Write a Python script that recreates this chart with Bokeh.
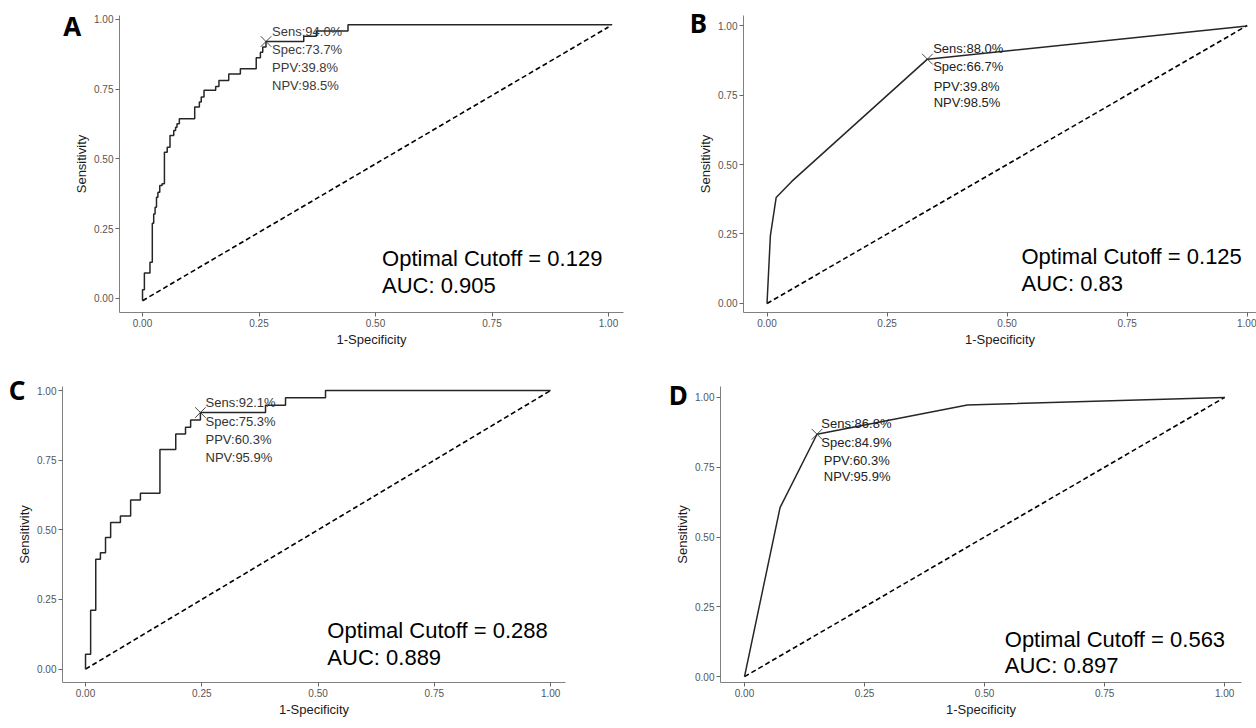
from bokeh.plotting import figure
from bokeh.layouts import column, row
from bokeh.models import Title, FixedTicker, Range1d
from bokeh.core.properties import value
from bokeh.embed import file_html
from bokeh.resources import INLINE

# ---------------- data ----------------
tick_values = [0.0, 0.25, 0.5, 0.75, 1.0]
tick_labels = ["0.00", "0.25", "0.50", "0.75", "1.00"]
panel_letters = ["A", "B", "C", "D"]

# Panel A: ROC points (1-specificity, sensitivity)
fpr_a = [0.000, 0.000, 0.004, 0.004, 0.016, 0.016, 0.021, 0.021, 0.024, 0.024,
         0.027, 0.027, 0.030, 0.030, 0.033, 0.033, 0.037, 0.037, 0.042, 0.042,
         0.047, 0.047, 0.053, 0.053, 0.059, 0.059, 0.067, 0.067, 0.071, 0.071,
         0.074, 0.074, 0.079, 0.079, 0.112, 0.112, 0.122, 0.122, 0.126, 0.126,
         0.132, 0.132, 0.157, 0.157, 0.164, 0.164, 0.185, 0.185, 0.210, 0.210,
         0.244, 0.244, 0.253, 0.253, 0.258, 0.258, 0.265, 0.265, 0.346, 0.346,
         0.373, 0.373, 0.441, 0.441, 1.008]
tpr_a = [-0.007, 0.031, 0.031, 0.091, 0.091, 0.130, 0.130, 0.270, 0.270, 0.303,
         0.303, 0.327, 0.327, 0.363, 0.363, 0.381, 0.381, 0.405, 0.405, 0.411,
         0.411, 0.524, 0.524, 0.542, 0.542, 0.584, 0.584, 0.602, 0.602, 0.614,
         0.614, 0.626, 0.626, 0.644, 0.644, 0.686, 0.686, 0.704, 0.704, 0.722,
         0.722, 0.746, 0.746, 0.760, 0.760, 0.781, 0.781, 0.805, 0.805, 0.823,
         0.823, 0.863, 0.863, 0.883, 0.883, 0.901, 0.901, 0.921, 0.921, 0.940,
         0.940, 0.959, 0.959, 0.981, 0.981]
diag_a_x = [0.0, 1.0]
diag_a_y = [-0.008, 0.973]
cut_a = (0.265, 0.921)

# Panel B
fpr_b = [0.000, 0.007, 0.019, 0.052, 0.334, 1.000]
tpr_b = [0.000, 0.244, 0.381, 0.440, 0.879, 0.998]
diag_b_x = [0.0, 1.0]
diag_b_y = [0.0, 1.0]
cut_b = (0.334, 0.879)

# Panel C
fpr_c = [0.000, 0.000, 0.011, 0.011, 0.022, 0.022, 0.032, 0.032, 0.043, 0.043,
         0.054, 0.054, 0.075, 0.075, 0.097, 0.097, 0.118, 0.118, 0.160, 0.160,
         0.194, 0.194, 0.215, 0.215, 0.226, 0.226, 0.247, 0.247, 0.387, 0.387,
         0.430, 0.430, 0.516, 0.516, 1.000]
tpr_c = [0.000, 0.053, 0.053, 0.211, 0.211, 0.394, 0.394, 0.418, 0.418, 0.472,
         0.472, 0.526, 0.526, 0.550, 0.550, 0.607, 0.607, 0.631, 0.631, 0.788,
         0.788, 0.844, 0.844, 0.868, 0.868, 0.894, 0.894, 0.921, 0.921, 0.947,
         0.947, 0.974, 0.974, 1.000, 1.000]
diag_c_x = [0.0, 1.0]
diag_c_y = [0.0, 1.0]
cut_c = (0.247, 0.921)

# Panel D
fpr_d = [0.000, 0.074, 0.151, 0.464, 1.000]
tpr_d = [0.000, 0.605, 0.868, 0.973, 1.000]
diag_d_x = [0.0, 1.0]
diag_d_y = [0.0, 1.0]
cut_d = (0.151, 0.868)

# metrics
sens = [94.0, 88.0, 92.1, 86.8]
spec = [73.7, 66.7, 75.3, 84.9]
ppv = [39.8, 39.8, 60.3, 60.3]
npv = [98.5, 98.5, 95.9, 95.9]
cutoff = ["0.129", "0.125", "0.288", "0.563"]
auc = ["0.905", "0.83", "0.889", "0.897"]

# ---------------- layout / style ----------------
FONT = value("Liberation Sans")

geom = [
    dict(w=633, h=358, l=119, r=10, t=15, b=46, xr=(-0.0494, 1.0322), yr=(-0.0502, 1.0143),
         lab=(-56.3, -56),
         tx=[0.278, 0.278, 0.278, 0.278], ty=[0.958, 0.894, 0.829, 0.765],
         ox=0.514, oy=[0.142, 0.048], tcol="#3a3a3a"),
    dict(w=623, h=358, l=110, r=0, t=15, b=40, xr=(-0.049, 1.0194), yr=(-0.0324, 1.036),
         lab=(-53.7, -51),
         tx=[0.346, 0.346, 0.347, 0.347], ty=[0.917, 0.851, 0.780, 0.724],
         ox=0.530, oy=[0.168, 0.073], tcol="#222222"),
    dict(w=633, h=370, l=62, r=68, t=28, b=46, xr=(-0.0495, 1.032), yr=(-0.048, 1.0144),
         lab=(-53.7, -43),
         tx=[0.258, 0.258, 0.258, 0.258], ty=[0.958, 0.890, 0.824, 0.760],
         ox=0.520, oy=[0.138, 0.042], tcol="#333333"),
    dict(w=623, h=370, l=87, r=15, t=26, b=36, xr=(-0.05, 1.035), yr=(-0.021, 1.039),
         lab=(-51.7, -52),
         tx=[0.160, 0.160, 0.165, 0.165], ty=[0.905, 0.840, 0.774, 0.718],
         ox=0.542, oy=[0.133, 0.039], tcol="#222222"),
]

curves = [(fpr_a, tpr_a, diag_a_x, diag_a_y, cut_a),
          (fpr_b, tpr_b, diag_b_x, diag_b_y, cut_b),
          (fpr_c, tpr_c, diag_c_x, diag_c_y, cut_c),
          (fpr_d, tpr_d, diag_d_x, diag_d_y, cut_d)]


def make_panel(i):
    g = geom[i]
    fpr, tpr, dx, dy, cut = curves[i]
    p = figure(width=g["w"], height=g["h"], output_backend="svg", toolbar_location=None,
               x_range=Range1d(*g["xr"]), y_range=Range1d(*g["yr"]),
               min_border_left=g["l"], min_border_right=g["r"],
               min_border_top=g["t"], min_border_bottom=g["b"],
               x_axis_label="1-Specificity", y_axis_label="Sensitivity")
    p.outline_line_color = None
    p.grid.visible = False
    p.background_fill_color = "white"
    p.border_fill_color = "white"
    for ax in (p.xaxis[0], p.yaxis[0]):
        ax.ticker = FixedTicker(ticks=tick_values)
        ax.major_label_overrides = dict(zip(tick_values, tick_labels))
        ax.minor_tick_line_color = None
        ax.major_tick_in = 0
        ax.major_tick_out = 4
        ax.major_tick_line_color = "#666666"
        ax.axis_line_color = "#808080"
        ax.axis_line_width = 1
        ax.major_label_text_font = "Liberation Sans"
        ax.major_label_text_font_size = "10px"
        ax.major_label_text_line_height = 1.0
        ax.major_label_text_color = "#555555"
        ax.major_label_standoff = 2
        ax.axis_label_text_font = "Liberation Sans"
        ax.axis_label_text_font_size = "13px"
        ax.axis_label_text_line_height = 1.0
        ax.axis_label_text_font_style = "normal"
        ax.axis_label_text_color = "#1a1a1a"
        ax.axis_label_standoff = 2

    p.line(dx, dy, line_color="black", line_width=1.6, line_dash="5 3")
    p.line(fpr, tpr, line_color="#262626", line_width=1.5)
    p.scatter([cut[0]], [cut[1]], marker="x", size=15, line_color="#333333", line_width=0.9)

    texts = [f"Sens:{sens[i]:.1f}%", f"Spec:{spec[i]:.1f}%",
             f"PPV:{ppv[i]:.1f}%", f"NPV:{npv[i]:.1f}%"]
    p.text(x=g["tx"], y=g["ty"], text=texts, text_font=FONT, text_font_size="13px",
           text_color=g["tcol"], text_baseline="middle", text_align="left")
    opt = [f"Optimal Cutoff = {cutoff[i]}", f"AUC: {auc[i]}"]
    p.text(x=[g["ox"], g["ox"]], y=g["oy"], text=opt, text_font=FONT, text_font_size="22px",
           text_color="black", text_baseline="middle", text_align="left")

    off, stand = g["lab"]
    p.add_layout(Title(text=panel_letters[i], text_font="Noto Sans", text_font_style="bold",
                       text_font_size="26px", text_color="black", align="left",
                       vertical_align="bottom", offset=off, standoff=stand), "above")
    return p


panels = [make_panel(i) for i in range(4)]
layout = column(row(panels[0], panels[1]), row(panels[2], panels[3]))

open("out.html", "w").write(file_html(layout, INLINE))
